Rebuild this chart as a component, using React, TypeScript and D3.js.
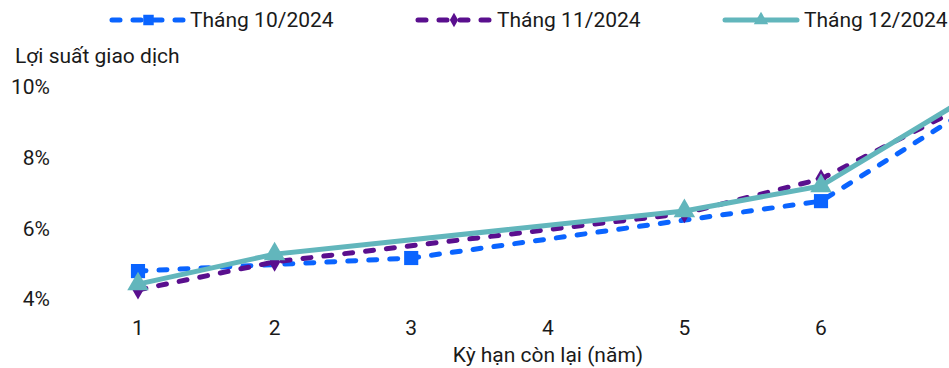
import React from "react";
import * as d3 from "d3";

// Remaining term (years) on the x axis
const terms = [1, 2, 3, 4, 5, 6, 7];
// Traded yields (%) per month; null = no trade at that term
const yieldsOct = [4.79, null, 5.16, null, null, 6.77, 9.17];
const yieldsNov = [4.26, 5.05, null, null, 6.42, 7.4, 9.36];
const yieldsDec = [4.42, 5.27, null, null, 6.49, 7.2, 9.53];

const seriesNames = ["Tháng 10/2024", "Tháng 11/2024", "Tháng 12/2024"];
const yTicks = [4, 6, 8, 10];
const xTicks = [1, 2, 3, 4, 5, 6];

const W = 949;
const H = 368;
const FONT = "Roboto, 'Noto Sans', sans-serif";
const FS = 21;

type Marker = "square" | "diamond" | "triangle";

const seriesStyles: { color: string; dash: string | null; marker: Marker; values: (number | null)[] }[] = [
  { color: "#0A64FF", dash: "8 13", marker: "square", values: yieldsOct },
  { color: "#5A0F8E", dash: "8 13", marker: "diamond", values: yieldsNov },
  { color: "#62B6BC", dash: null, marker: "triangle", values: yieldsDec },
];

function markerPath(kind: Marker, size: number): string {
  const sym =
    kind === "square" ? d3.symbolSquare : kind === "diamond" ? d3.symbolDiamond : d3.symbolTriangle;
  return d3.symbol().type(sym).size(size)() as string;
}

const markerSize: Record<Marker, number> = { square: 200, diamond: 110, triangle: 200 };
const legendMarkerSize: Record<Marker, number> = { square: 110, diamond: 60, triangle: 90 };

export default function App() {
  const x = d3.scaleLinear().domain([1, 6]).range([138, 821]);
  const y = d3.scaleLinear().domain([4, 10]).range([299, 87]);

  const line = d3
    .line<[number, number]>()
    .x((d) => x(d[0]))
    .y((d) => y(d[1]));

  const legendItems = [
    { x0: 112, x1: 185, tx: 190 },
    { x0: 418, x1: 490, tx: 497 },
    { x0: 725, x1: 797, tx: 804 },
  ];

  return (
    <div style={{ position: "absolute", left: 0, top: 0 }}>
      <svg width={W} height={H} style={{ display: "block", fontFamily: FONT }}>
        <defs>
          <clipPath id="plot-clip">
            <rect x={0} y={60} width={W} height={260} />
          </clipPath>
        </defs>
        <rect width={W} height={H} fill="#fff" />

        {/* Legend */}
        {seriesStyles.map((s, i) => {
          const l = legendItems[i];
          const cy = 20;
          return (
            <g key={"lg" + i}>
              <line
                x1={l.x0}
                x2={l.x1}
                y1={cy}
                y2={cy}
                stroke={s.color}
                strokeWidth={5}
                strokeLinecap="round"
                strokeDasharray={s.dash ?? undefined}
              />
              <path
                d={markerPath(s.marker, legendMarkerSize[s.marker])}
                transform={`translate(${(l.x0 + l.x1) / 2},${cy})`}
                fill={s.color}
              />
              <text x={l.tx} y={cy} dy="0.35em" fontSize={FS} fill="#1a1a1a">
                {seriesNames[i]}
              </text>
            </g>
          );
        })}

        {/* Y axis title */}
        <text x={15} y={56} dy="0.35em" fontSize={FS} fill="#1a1a1a">
          Lợi suất giao dịch
        </text>

        {/* Y tick labels */}
        {yTicks.map((t) => (
          <text key={"y" + t} x={50} y={y(t)} dy="0.35em" textAnchor="end" fontSize={FS} fill="#1a1a1a">
            {t}%
          </text>
        ))}

        {/* X tick labels */}
        {xTicks.map((t) => (
          <text key={"x" + t} x={x(t)} y={328} dy="0.35em" textAnchor="middle" fontSize={FS} fill="#1a1a1a">
            {t}
          </text>
        ))}

        {/* X axis title */}
        <text x={548} y={355} dy="0.35em" textAnchor="middle" fontSize={FS} fill="#1a1a1a">
          Kỳ hạn còn lại (năm)
        </text>

        {/* Series lines and markers */}
        <g clipPath="url(#plot-clip)">
          {seriesStyles.map((s, i) => {
            const pts = terms
              .map((t, k) => [t, s.values[k]] as [number, number | null])
              .filter((d) => d[1] !== null) as [number, number][];
            return (
              <g key={"s" + i}>
                <path
                  d={line(pts) ?? ""}
                  fill="none"
                  stroke={s.color}
                  strokeWidth={5}
                  strokeLinecap="round"
                  strokeLinejoin="round"
                  strokeDasharray={s.dash ?? undefined}
                />
                {pts.map((p, k) => (
                  <path
                    key={k}
                    d={markerPath(s.marker, markerSize[s.marker])}
                    transform={`translate(${x(p[0])},${y(p[1])})`}
                    fill={s.color}
                  />
                ))}
              </g>
            );
          })}
        </g>
      </svg>
    </div>
  );
}
